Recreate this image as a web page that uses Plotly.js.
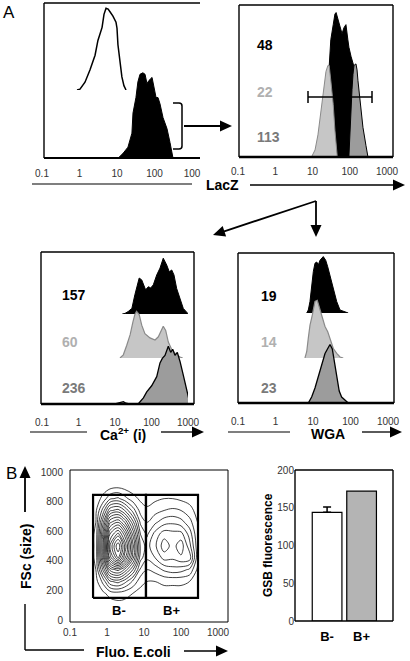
<!DOCTYPE html>
<html><head><meta charset="utf-8">
<script src="https://cdn.plot.ly/plotly-3.0.1.min.js"></script>
<style>html,body{margin:0;padding:0;background:#fff}#chart{width:410px;height:661px}</style>
</head><body><div id="chart"></div>
<script>
// ---------- DATA ----------
// Panel A, top-left: LacZ
const lacZNegX = [0.86,1.03,1.4,1.9,2.6,3.1,4.0,4.5,5.1,5.8,6.5,7.8,9.4,10,10.6,12,13.5,15.3,17.4];
const lacZNegY = [0,1,9,23,40,57,72,87,94,93,90,85,78,71,52,32,15,5,0];
const lacZPosX = [10.8,14.5,19.6,25,26.7,32,36,41,49,56,63,71,86,97,110,124,140,169,215,259,311];
const lacZPosY = [0,3,7,16,29,39,49,54,55,54,48,50,52,46,39,39,35,26,19,10,0];
// Panel A, top-right: sorted LacZ populations (48, 22, 113)
const sortBlackX = [18,23,28,31,36,40,43,48,55,62,70,79,89,95,108,122,138,147,157,166];
const sortBlackY = [0,24,59,77,87,94,95,91,85,81,85,87,77,72,66,62,57,44,17,0];
const sortLightX = [9.7,11.7,14,16,18,20,23,26,28,31,36,40,46];
const sortLightY = [0,4,14,25,37,47,56,60,60,50,34,17,0];
const sortDarkX = [95,101,108,115,122,130,147,157,166,188,226,272,305];
const sortDarkY = [0,17,30,44,54,60,61,57,50,37,19,7,0];
const sortLabels = ['48','22','113'];
// Panel A, Ca2+(i)
const caBlackX = [15.8,18.8,23,29,35,41,46,54,60,69,82,95,112,139,171,210,261,307,358,413,490,604,743,1020];
const caBlackY = [0,1,4,9,31,47,58,55,47,39,44,42,47,63,74,90,79,68,71,63,41,25,9,0];
const caLightX = [13.7,16.9,21,26,31,35,39,46,54,66,91,125,154,190,210,245,289,358,469,604,716];
const caLightY = [0,3,12,22,34,41,44,41,31,23,19,17,20,28,30,26,15,8,3.5,1,0];
const caDarkX = [10,13,17,20,25,43,60,74,101,139,171,198,234,289,336,381,440,509,604,743,921,1135];
const caDarkY = [0,1,1.5,0.5,0,0,4,8,12,18,27,30,32,38,34,36,32,34,28,19,10,0];
const caLabels = ['157','60','236'];
// Panel A, WGA
const wgaBlackX = [6.8,7.5,8.3,9.2,10.2,11.3,12.6,13.8,15.4,18.8,21.8,24.7,28.4,34.8,42.9,52.5,71,87];
const wgaBlackY = [0,5,19,47,69,83,85,80,88,94,88,77,63,41,19,5,2,0];
const wgaLightX = [6.1,6.8,7.5,8.3,9.6,11.3,13.0,15.4,17.7,20.9,24.7,28.4,34.8,42.9,52.5,64];
const wgaLightY = [0,6,19,31,41,54,55,46,38,30,25,19,9,4.5,1,0];
const wgaDarkX = [7.5,9.2,11.3,13.8,17.1,20.9,25.6,28.4,32.7,37,42.9,50,58,71,87];
const wgaDarkY = [0,4,10,18,25,33,37,39,36,28,19,8,4,2,0];
const wgaLabels = ['19','14','23'];
// Log tick labels
const logTicks = [0.1,1,10,100,1000];
const logTickText = ['0.1','1','10','100','1000'];
// Panel B, contour (Fluo. E.coli vs FSc)
const fluoX = [0.3,0.5,0.8,1.2,2,3,5,8,12,20,35,60,100,170,280];
const fscY = [100,180,260,340,420,500,580,660,740,820,900];
const density = [
 [0,0,0,0,1,1,0,0,0,0,0,0,0,0,0],
 [0,0,2,5,6,5,3,1,1,1,1,1,1,0,0],
 [0,1,10,22,25,20,12,5,3,3,4,4,4,3,0],
 [0,3,25,45,50,42,28,12,8,10,14,16,15,12,2],
 [0,4,38,70,88,70,45,20,14,18,25,24,27,26,5],
 [0,4,40,78,98,78,50,22,16,22,31,26,31,20,5],
 [0,4,36,68,80,66,42,18,12,20,26,25,25,16,4],
 [0,3,28,52,58,48,30,12,8,12,16,17,15,10,3],
 [0,2,16,32,35,28,16,6,4,6,8,9,8,5,1],
 [0,0,5,12,14,10,5,2,1,2,3,3,2,1,0],
 [0,0,0,1,2,1,0,0,0,0,0,0,0,0,0]
];
const gateNames = ['B-','B+'];
const gateX = [[0.42,11.3],[11.3,288]];
const gateY = [149,845];
const fscTicks = [0,200,400,600,800,1000];
// Panel B, bar chart
const barGroups = ['B-','B+'];
const barValues = [144,172];
const barErr = [7,0];
const barColors = ['#ffffff','#b4b4b4'];
const barTicks = [0,50,100,150,200];

// ---------- HELPERS ----------
const W=410,H=661;
const X=p=>p/W, Y=p=>1-p/H;
const F='Liberation Sans, Arial, Helvetica, sans-serif';
const BLACK='#000', LIGHT='#c6c6c6', LIGHTLINE='#8a8a8a', DARK='#9c9c9c';
const shapes=[], annotations=[];
function ln(x0,y0,x1,y1,w,c){shapes.push({type:'line',xref:'paper',yref:'paper',x0:X(x0),y0:Y(y0),x1:X(x1),y1:Y(y1),line:{color:c||BLACK,width:w||1.5}});}
function poly(pts,fill){shapes.push({type:'path',xref:'paper',yref:'paper',path:'M'+pts.map(p=>X(p[0])+','+Y(p[1])).join('L')+'Z',fillcolor:fill||BLACK,line:{width:0}});}
function arrow(x0,y0,x1,y1,w){
  const dx=x1-x0,dy=y1-y0,L=Math.hypot(dx,dy),ux=dx/L,uy=dy/L,hl=12,hw=5.5;
  const bx=x1-ux*hl,by=y1-uy*hl;
  ln(x0,y0,bx+ux*1,by+uy*1,w||1.6);
  poly([[x1,y1],[bx-uy*hw,by+ux*hw],[bx+uy*hw,by-ux*hw]]);
}
function box(l,t,r,b,w,bw){ln(l,t,r,t,w);ln(l,t,l,b,w);ln(r,t,r,b,w);ln(l,b,r,b,bw||w);}
function txt(x,y,s,size,color,bold,opts){annotations.push(Object.assign({xref:'paper',yref:'paper',x:X(x),y:Y(y),text:s,showarrow:false,xanchor:'center',yanchor:'middle',font:{family:F,size:size,color:color||BLACK,weight:bold?'bold':'normal'}},opts||{}));}
function hist(x,y,xa,ya,fill,lineColor,w){
  return {type:'scatter',mode:'lines',x:x,y:y,xaxis:xa,yaxis:ya,fill:fill?'tozeroy':'none',fillcolor:fill||undefined,line:{color:lineColor,width:w||1,shape:'linear'},hoverinfo:'skip'};
}
const hidY=(b,t)=>({domain:[Y(b),Y(t)],range:[0,100],visible:false,fixedrange:true});
const logX=(l,r,anchor,tl,text)=>({domain:[X(l),X(r)],range:[-1,3],type:'log',anchor:anchor,tickvals:logTicks,ticktext:text||logTickText,ticks:'outside',ticklen:tl,tickcolor:'rgba(0,0,0,0)',tickfont:{family:F,size:10,color:'#333'},showline:false,showgrid:false,zeroline:false,fixedrange:true});

// ---------- TRACES ----------
const traces=[
  hist(lacZPosX,lacZPosY,'x','y',BLACK,BLACK,1),
  hist(lacZNegX,lacZNegY,'x','y2',null,BLACK,1.5),
  hist(sortBlackX,sortBlackY,'x2','y3',BLACK,BLACK,1),
  hist(sortLightX,sortLightY,'x2','y3',LIGHT,LIGHTLINE,1),
  hist(sortDarkX,sortDarkY,'x2','y3',DARK,BLACK,1),
  hist(caDarkX,caDarkY,'x3','y6',DARK,BLACK,1.3),
  hist(caLightX,caLightY,'x3','y5',LIGHT,LIGHTLINE,1.2),
  hist(caBlackX,caBlackY,'x3','y4',BLACK,BLACK,1),
  hist(wgaDarkX,wgaDarkY,'x4','y9',DARK,BLACK,1.3),
  hist(wgaLightX,wgaLightY,'x4','y8',LIGHT,LIGHTLINE,1.2),
  hist(wgaBlackX,wgaBlackY,'x4','y7',BLACK,BLACK,1),
  {type:'contour',x:fluoX,y:fscY,z:density,xaxis:'x5',yaxis:'y10',showscale:false,
   contours:{coloring:'lines',start:3,end:98,size:5},colorscale:[[0,'#111'],[1,'#111']],
   line:{width:0.8,smoothing:1},hoverinfo:'skip'}
];
gateX.forEach(g=>traces.push({type:'scatter',mode:'lines',x:[g[0],g[1],g[1],g[0],g[0]],y:[gateY[0],gateY[0],gateY[1],gateY[1],gateY[0]],xaxis:'x5',yaxis:'y10',line:{color:BLACK,width:2.2},hoverinfo:'skip'}));
barGroups.forEach((g,i)=>traces.push({type:'bar',x:[g],y:[barValues[i]],xaxis:'x6',yaxis:'y11',width:0.86,
  marker:{color:barColors[i],line:{color:BLACK,width:1.2}},
  error_y:{type:'data',symmetric:false,array:[barErr[i]],arrayminus:[0],visible:barErr[i]>0,color:BLACK,thickness:1.5,width:4},hoverinfo:'skip'}));

// ---------- SHAPES & TEXT ----------
// Panel 1 frame (open on the right)
ln(44,3,200,3,1.4); ln(44,3,44,158,1.4); ln(44,158,200,158,2);
// bracket and arrow to panel 2
shapes.push({type:'path',xref:'paper',yref:'paper',path:`M${X(173)},${Y(103)} L${X(179)},${Y(103)} Q${X(182)},${Y(103)} ${X(182)},${Y(106)} L${X(182)},${Y(146)} Q${X(182)},${Y(149)} ${X(179)},${Y(149)} L${X(173)},${Y(149)}`,line:{color:BLACK,width:1.5}});
arrow(184,126,232,126,1.8);
ln(32,184,192,184,1.2);
// Panel 2
box(239,5,393,157,1.4,2.5);
ln(308,97,372,97,1.5); ln(308,91,308,103,1.5); ln(372,91,372,103,1.5);
arrow(250,185,405,185,1.3);
txt(222,185,'LacZ',14,BLACK,true);
// split arrows
arrow(316,201,316,237,1.8); arrow(316,201,213,235,1.8);
// Panel 3
box(41,252,194,404,1.4,2.5);
ln(30,432,87,432,1.2); arrow(161,432,204,432,1.3);
txt(123,434,'Ca<sup>2+</sup> (i)',14,BLACK,true);
// Panel 4
box(238,253,394,403,1.4,2.5);
ln(228,432,290,432,1.2); arrow(362,432,402,432,1.3);
txt(328,434,'WGA',14,BLACK,true);
// population labels
const popColors=[BLACK,'#b0b0b0','#7a7a7a'];
sortLabels.forEach((s,i)=>txt(255,[45,92,137][i],s,14,popColors[i],true,{xanchor:'left'}));
caLabels.forEach((s,i)=>txt(60,[295,342,388][i],s,14,popColors[i],true,{xanchor:'left'}));
wgaLabels.forEach((s,i)=>txt(259,[296,342,388][i],s,14,popColors[i],true,{xanchor:'left'}));
txt(9,13,'A',17,BLACK,false);
// Panel B contour
box(70,470,228,622,1,1);
arrow(25,512,25,466,1.8);
ln(25,604,25,650,1.4); ln(25,650,84,650,1.4);
arrow(184,651,228,651,1.4);
txt(26,557,'FSc (size)',14,BLACK,true,{textangle:-90});
txt(133,652,'Fluo. E.coli',14,BLACK,true);
gateNames.forEach((g,i)=>txt([119,171][i],610,g,13,BLACK,true));
txt(11,473,'B',17,BLACK,false);
// bar chart
box(295,470,393,621,1.4,1.4);
txt(268,545,'GSB fluorescence',12,BLACK,true,{textangle:-90});

const layout={
  width:W,height:H,margin:{l:0,r:0,t:0,b:0},paper_bgcolor:'#fff',plot_bgcolor:'rgba(0,0,0,0)',showlegend:false,barmode:'overlay',
  xaxis:logX(42,192,'y',6,['0.1','1','10','100','100']),
  yaxis:hidY(158,3),
  yaxis2:hidY(90,3),
  xaxis2:logX(238,387,'y3',6),
  yaxis3:hidY(156,5),
  xaxis3:logX(42,188,'y6',9),
  yaxis4:hidY(314,252),
  yaxis5:hidY(358,252),
  yaxis6:hidY(404,252),
  xaxis4:logX(238,388,'y9',9),
  yaxis7:hidY(313,253),
  yaxis8:hidY(358,253),
  yaxis9:hidY(403,253),
  xaxis5:{domain:[X(70),X(228)],range:[-1,3.27],type:'log',anchor:'y10',tickvals:logTicks,ticktext:logTickText,ticks:'outside',ticklen:1,tickcolor:'rgba(0,0,0,0)',tickfont:{family:F,size:10,color:'#333'},showgrid:false,zeroline:false,showline:false},
  yaxis10:{domain:[Y(622),Y(470)],range:[-13.5,1013.5],anchor:'x5',tickvals:fscTicks,ticks:'outside',ticklen:4,tickcolor:'rgba(0,0,0,0)',tickfont:{family:F,size:10,color:'#333'},showgrid:false,zeroline:false,showline:false},
  xaxis6:{domain:[X(295),X(393)],range:[-0.93,1.91],anchor:'y11',type:'category',categoryarray:barGroups,ticks:'outside',ticklen:3,tickcolor:'rgba(0,0,0,0)',tickfont:{family:F,size:13,color:BLACK,weight:'bold'},showgrid:false,zeroline:false,showline:false},
  yaxis11:{domain:[Y(621),Y(470)],range:[0,200],anchor:'x6',tickvals:barTicks,ticks:'',tickfont:{family:F,size:10,color:'#333'},showgrid:false,zeroline:false,showline:false},
  shapes:shapes,annotations:annotations
};
Plotly.newPlot('chart',traces,layout,{staticPlot:true,displayModeBar:false});
</script></body></html>
